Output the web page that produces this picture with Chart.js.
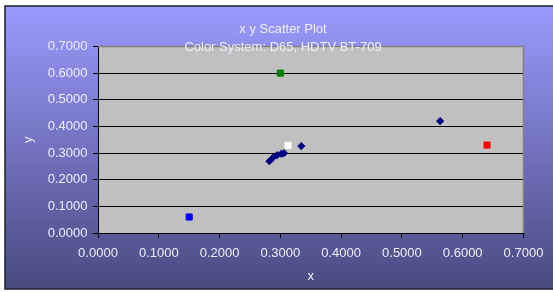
<!DOCTYPE html>
<html>
<head>
<meta charset="utf-8">
<script src="https://cdn.jsdelivr.net/npm/chart.js@4.4.1/dist/chart.umd.min.js"></script>
<style>
  html, body { margin: 0; padding: 0; background: #ffffff; }
  #scatterChart { display: block; }
</style>
</head>
<body>
<canvas id="scatterChart" width="553" height="292"></canvas>
<script>
// sample chromaticities (dark blue diamonds)
var sampleX = [0.282, 0.2875, 0.2946, 0.3016, 0.306, 0.3345, 0.5628];
var sampleY = [0.2695, 0.282, 0.292, 0.2973, 0.2996, 0.326, 0.420];

// primaries + white point of the colour system
var primaryNames = ["Red", "Green", "Blue", "White D65"];
var primaryX = [0.64, 0.30, 0.15, 0.3127];
var primaryY = [0.33, 0.60, 0.06, 0.329];

var axisTicks = [0, 0.1, 0.2, 0.3, 0.4, 0.5, 0.6, 0.7];
var titleLines = ["x y Scatter Plot", "Color System: D65, HDTV BT-709"];

var primaryColors = ["#ff0000", "#008000", "#0000ff", "#ffffff"];
var textColor = "#eeeefa";
var fontFamily = "'Liberation Sans', Arial, sans-serif";

function toPoints(xs, ys) {
  return xs.map(function (x, i) { return {x: x, y: ys[i]}; });
}

var datasets = [{
  label: "Samples",
  data: toPoints(sampleX, sampleY),
  pointStyle: "rectRot",
  pointRadius: 3.6,
  backgroundColor: "#000080",
  borderColor: "#000080",
  borderWidth: 1,
  showLine: false
}];
primaryNames.forEach(function (name, i) {
  datasets.push({
    label: name,
    data: [{x: primaryX[i], y: primaryY[i]}],
    pointStyle: "rect",
    pointRadius: 4.3,
    backgroundColor: primaryColors[i],
    borderColor: primaryColors[i],
    borderWidth: 1,
    showLine: false
  });
});

var frame = {
  id: "frame",
  beforeDraw: function (chart) {
    var ctx = chart.ctx, a = chart.chartArea;
    ctx.save();
    ctx.fillStyle = "#ffffff";
    ctx.fillRect(0, 0, chart.width, chart.height);
    var g = ctx.createLinearGradient(0, 6, 0, 289);
    g.addColorStop(0, "#9a9aff");
    g.addColorStop(1, "#4a4a80");
    ctx.fillStyle = g;
    ctx.fillRect(5, 6, chart.width + 10, 283);
    ctx.strokeStyle = "#1e1e2c";
    ctx.lineWidth = 1.5;
    ctx.strokeRect(5, 6, chart.width + 10, 283);
    ctx.fillStyle = "#c0c0c0";
    ctx.fillRect(a.left, a.top, a.right - a.left, a.bottom - a.top);
    ctx.restore();
  },
  beforeDatasetsDraw: function (chart) {
    var ctx = chart.ctx, a = chart.chartArea;
    ctx.save();
    ctx.strokeStyle = "#808080";
    ctx.lineWidth = 1.5;
    ctx.beginPath();
    ctx.moveTo(a.left, a.top);
    ctx.lineTo(a.right, a.top);
    ctx.lineTo(a.right, a.bottom);
    ctx.stroke();
    ctx.restore();
  },
  afterDraw: function (chart) {
    var ctx = chart.ctx;
    ctx.save();
    ctx.fillStyle = textColor;
    ctx.font = "13px " + fontFamily;
    ctx.textAlign = "center";
    ctx.textBaseline = "middle";
    ctx.fillText(titleLines[0], 283, 29);
    ctx.fillText(titleLines[1], 283, 47);
    ctx.restore();
  }
};

function fmt(v) { return Number(v).toFixed(4); }

new Chart("scatterChart", {
  type: "scatter",
  data: { datasets: datasets },
  plugins: [frame],
  options: {
    responsive: false,
    animation: false,
    layout: { padding: {left: 17, right: 29.5, top: 46.5, bottom: 4} },
    plugins: {
      legend: { display: false },
      title: { display: false },
      tooltip: { enabled: false }
    },
    scales: {
      x: {
        type: "linear",
        min: axisTicks[0],
        max: axisTicks[axisTicks.length - 1],
        afterBuildTicks: function (s) { s.ticks = axisTicks.map(function (v) { return {value: v}; }); },
        afterFit: function (s) { s.height = 55; },
        ticks: { color: textColor, font: {family: fontFamily, size: 13}, padding: 8, maxRotation: 0, callback: fmt },
        grid: { drawOnChartArea: false, drawTicks: true, tickLength: 5, color: "#000000" },
        border: { color: "#000000", width: 1 },
        title: { display: true, text: "x", color: textColor, font: {family: fontFamily, size: 13} }
      },
      y: {
        type: "linear",
        min: axisTicks[0],
        max: axisTicks[axisTicks.length - 1],
        afterBuildTicks: function (s) { s.ticks = axisTicks.map(function (v) { return {value: v}; }); },
        afterFit: function (s) { s.width = 81; },
        ticks: { color: textColor, font: {family: fontFamily, size: 13}, padding: 5.5, callback: fmt },
        grid: { color: "#000000", lineWidth: 1, tickLength: 5 },
        border: { color: "#000000", width: 1 },
        title: { display: true, text: "y", color: textColor, font: {family: fontFamily, size: 13} }
      }
    }
  }
});
</script>
</body>
</html>
